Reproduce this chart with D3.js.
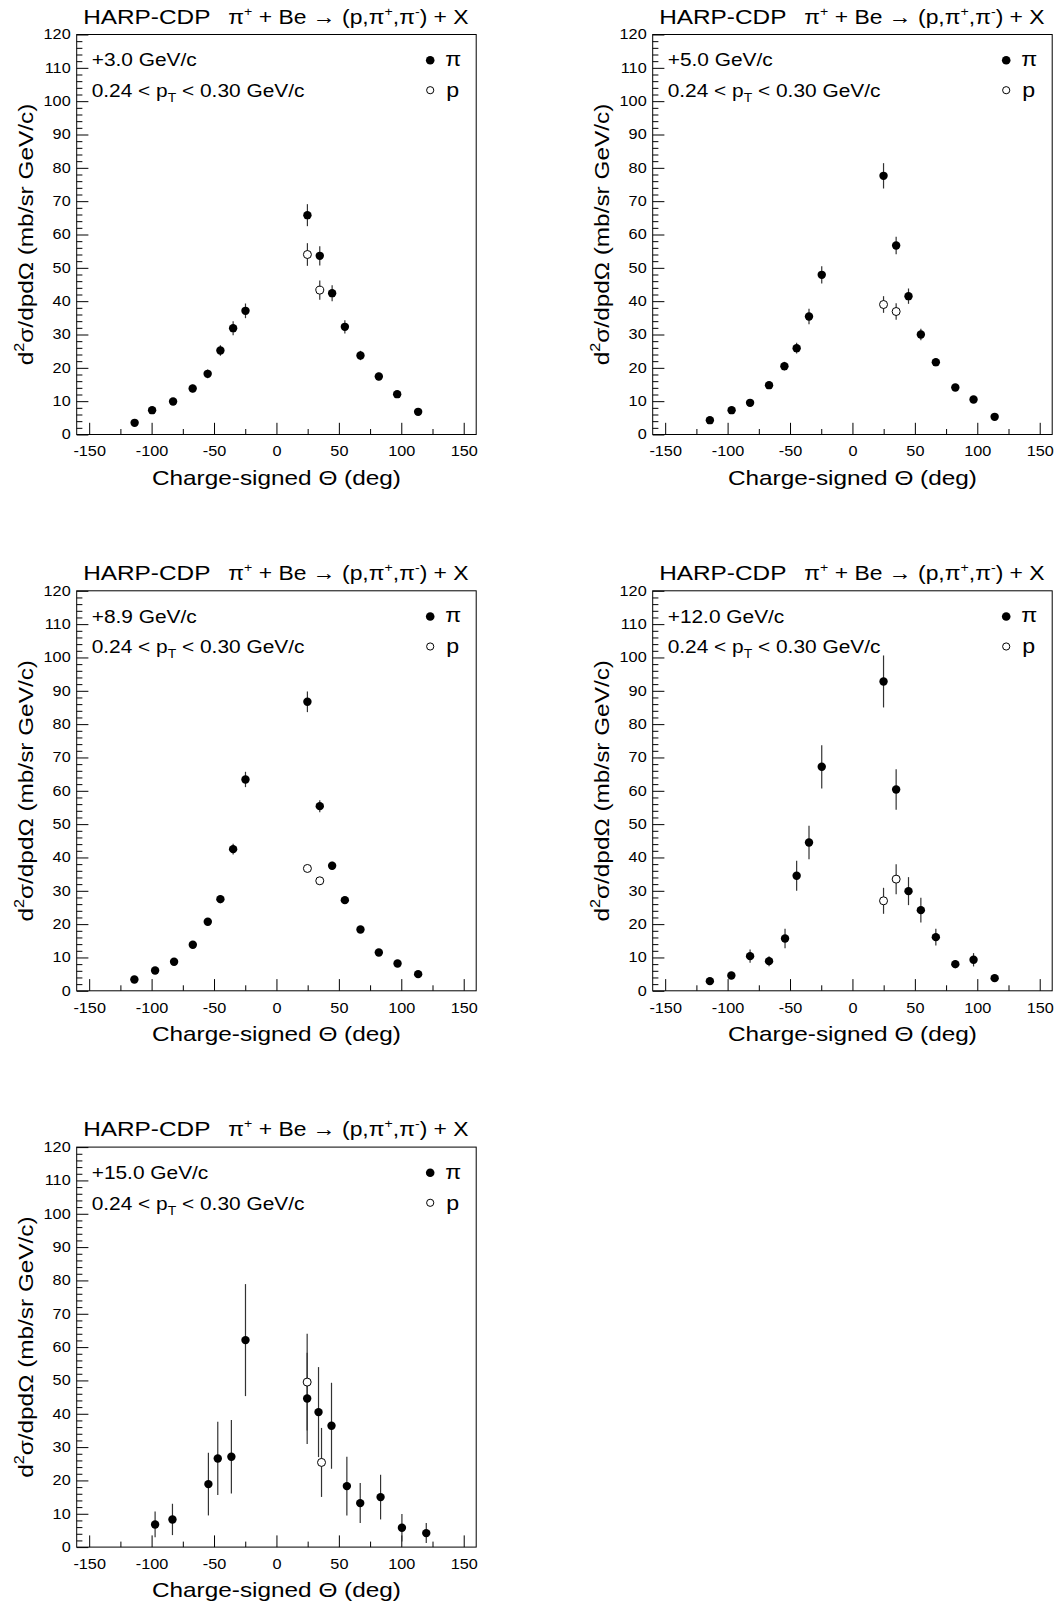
<!DOCTYPE html>
<html><head><meta charset="utf-8">
<script src="https://cdn.jsdelivr.net/npm/d3@7"></script>
<style>body{margin:0;background:#fff}</style>
</head><body>
<script>
// ---------------- data ----------------
const momentumLabels = ["+3.0 GeV/c", "+5.0 GeV/c", "+8.9 GeV/c", "+12.0 GeV/c", "+15.0 GeV/c"];
const ptLabel = ["0.24 < p", "T", " < 0.30 GeV/c"];
const xTickValues = [-150, -100, -50, 0, 50, 100, 150];
const xMinorValues = [-125, -75, -25, 25, 75, 125];
const yTickValues = [0, 10, 20, 30, 40, 50, 60, 70, 80, 90, 100, 110, 120];
const yMinorValues = d3.range(0, 121, 2).filter(v => v % 10 !== 0);

// +3.0 GeV/c
const piTheta_3 = [-113.6, -99.6, -82.8, -67.1, -55.1, -44.9, -34.7, -24.8, 24.8, 34.7, 44.6, 54.8, 67.3, 82, 96.7, 113.5];
const piVal_3   = [3.5, 7.3, 9.9, 13.8, 18.2, 25.2, 31.9, 37.1, 65.8, 53.6, 42.4, 32.3, 23.7, 17.4, 12.1, 6.8];
const piErr_3   = [0.6, 0.8, 0.9, 1.1, 1.3, 1.6, 2.1, 2.2, 3.3, 2.9, 2.4, 2.0, 1.4, 1.1, 0.9, 0.6];
const pTheta_3  = [24.8, 34.7];
const pVal_3    = [54.0, 43.3];
const pErr_3    = [3.4, 2.9];

// +5.0 GeV/c
const piTheta_5 = [-114.2, -96.8, -82, -66.8, -54.5, -44.7, -34.8, -24.6, 24.9, 35, 44.9, 54.8, 66.8, 82.4, 97, 113.9];
const piVal_5   = [4.3, 7.3, 9.5, 14.8, 20.5, 25.9, 35.4, 47.9, 77.6, 56.7, 41.5, 30.0, 21.7, 14.1, 10.5, 5.3];
const piErr_5   = [0.6, 0.8, 0.9, 1.1, 1.3, 1.6, 2.3, 2.6, 3.8, 2.6, 2.3, 1.7, 1.2, 0.9, 0.8, 0.6];
const pTheta_5  = [24.9, 35];
const pVal_5    = [39.0, 36.9];
const pErr_5    = [2.5, 2.5];

// +8.9 GeV/c
const piTheta_89 = [-113.8, -97.2, -82, -67, -55, -44.9, -34.7, -24.8, 24.8, 34.7, 44.6, 54.8, 67.3, 82, 97, 113.5];
const piVal_89   = [3.4, 6.1, 8.7, 13.8, 20.7, 27.5, 42.5, 63.4, 86.7, 55.4, 37.5, 27.2, 18.4, 11.5, 8.2, 5.0];
const piErr_89   = [0.4, 0.5, 0.6, 0.8, 1.0, 1.2, 1.6, 2.3, 3.1, 1.8, 1.2, 0.9, 0.7, 0.5, 0.4, 0.3];
const pTheta_89  = [24.8, 34.7];
const pVal_89    = [36.7, 33.0];
const pErr_89    = [0.9, 0.8];

// +12.0 GeV/c
const piTheta_12 = [-114.2, -97, -82, -66.8, -54, -44.7, -34.8, -24.6, 24.9, 35, 44.9, 54.8, 66.8, 82.4, 97, 113.9];
const piVal_12   = [2.9, 4.6, 10.4, 8.9, 15.7, 34.5, 44.5, 67.2, 92.8, 60.4, 29.9, 24.2, 16.1, 8.0, 9.3, 3.8];
const piErr_12   = [0.6, 1.0, 2.0, 1.5, 2.9, 4.5, 5.0, 6.5, 7.8, 6.1, 4.2, 3.7, 2.5, 1.2, 2.0, 0.8];
const pTheta_12  = [24.9, 35];
const pVal_12    = [27.0, 33.5];
const pErr_12    = [3.9, 4.5];

// +15.0 GeV/c
const piTheta_15 = [-97.2, -83.3, -54.5, -47, -36.1, -24.8, 24.6, 33.7, 44.1, 56.4, 67.1, 83.4, 100.5, 120];
const piVal_15   = [6.8, 8.3, 18.9, 26.6, 27.1, 62.1, 44.6, 40.5, 36.4, 18.3, 13.2, 15.0, 5.8, 4.2];
const piErr_15   = [3.85, 4.7, 9.4, 11.0, 11.0, 16.8, 13.7, 13.5, 12.9, 8.8, 6.0, 6.7, 4.1, 3.0];
const pTheta_15  = [24.6, 36.1];
const pVal_15    = [49.5, 25.4];
const pErr_15    = [14.5, 10.35];

// ---------------- layout ----------------
const panels = [
  {label: momentumLabels[0], pi: [piTheta_3, piVal_3, piErr_3], p: [pTheta_3, pVal_3, pErr_3]},
  {label: momentumLabels[1], pi: [piTheta_5, piVal_5, piErr_5], p: [pTheta_5, pVal_5, pErr_5]},
  {label: momentumLabels[2], pi: [piTheta_89, piVal_89, piErr_89], p: [pTheta_89, pVal_89, pErr_89]},
  {label: momentumLabels[3], pi: [piTheta_12, piVal_12, piErr_12], p: [pTheta_12, pVal_12, pErr_12]},
  {label: momentumLabels[4], pi: [piTheta_15, piVal_15, piErr_15], p: [pTheta_15, pVal_15, pErr_15]}
];
const colLeft = [76.7, 652.7];
const rowTop = [34.5, 590.8, 1147.1];
const W = 399.5, H = 400;
const SX = 1.16;
const FONT = "'Liberation Sans', Arial, Helvetica, sans-serif";

const svg = d3.select("body").append("svg")
  .attr("width", 1059).attr("height", 1606)
  .style("font-family", FONT);
svg.append("rect").attr("width", 1059).attr("height", 1606).attr("fill", "#fff");

function txt(g, x, y, size, anchor, rot, sx) {
  return g.append("text")
    .attr("transform", `translate(${x},${y}) rotate(${rot || 0}) scale(${sx || SX},1)`)
    .attr("font-size", size)
    .attr("text-anchor", anchor || "start")
    .attr("fill", "#000");
}

panels.forEach((pd, i) => {
  const col = i % 2, row = Math.floor(i / 2);
  const g = svg.append("g").attr("transform", `translate(${colLeft[col]},${rowTop[row]})`);
  const x = d3.scaleLinear().domain([-160, 160]).range([0, W]);
  const y = d3.scaleLinear().domain([0, 120]).range([H, 0]);

  // axes (ticks inside frame)
  const fmt = d => String(d);
  const xAx = g.append("g").attr("transform", `translate(0,${H})`)
    .call(d3.axisBottom(x).tickValues(xTickValues).tickSize(-11.7).tickSizeOuter(0).tickPadding(11.8).tickFormat(fmt));
  g.append("g").attr("transform", `translate(0,${H})`)
    .call(d3.axisBottom(x).tickValues(xMinorValues).tickSize(-5.5).tickSizeOuter(0).tickFormat(""));
  const yAx = g.append("g")
    .call(d3.axisLeft(y).tickValues(yTickValues).tickSize(-11.7).tickSizeOuter(0).tickPadding(5.2).tickFormat(fmt));
  g.append("g")
    .call(d3.axisLeft(y).tickValues(yMinorValues).tickSize(-5.7).tickSizeOuter(0).tickFormat(""));
  g.selectAll(".domain").remove();
  g.selectAll(".tick line").attr("stroke", "#000").attr("stroke-width", 1);
  [xAx, yAx].forEach(a => a.selectAll("text")
    .attr("font-size", 14).attr("font-family", FONT).attr("fill", "#000")
    .attr("transform", `scale(${SX},1)`));

  // frame
  g.append("rect").attr("x", 0).attr("y", 0).attr("width", W).attr("height", H)
    .attr("fill", "none").attr("stroke", "#000").attr("stroke-width", 1);

  // title
  txt(g, 6.5, -11, 21).text("HARP-CDP");
  const t = txt(g, 151.6, -11, 21, "start", 0, 1.09);
  t.append("tspan").text("π");
  t.append("tspan").attr("font-size", 13).attr("dy", -8).text("+");
  t.append("tspan").attr("dy", 8).text(" + Be → (p,π");
  t.append("tspan").attr("font-size", 13).attr("dy", -8).text("+");
  t.append("tspan").attr("dy", 8).text(",π");
  t.append("tspan").attr("font-size", 13).attr("dy", -8).text("-");
  t.append("tspan").attr("dy", 8).text(") + X");

  // axis titles
  txt(g, W / 2, H + 50, 21, "middle").text("Charge-signed Θ (deg)");
  const yt = txt(g, -43.7, H / 2, 21, "middle", -90);
  yt.append("tspan").text("d");
  yt.append("tspan").attr("font-size", 14).attr("dy", -9).text("2");
  yt.append("tspan").attr("dy", 9).text("σ/dpdΩ (mb/sr GeV/c)");

  // labels
  txt(g, 15, 31.7, 18).text(pd.label);
  const pt = txt(g, 15, 62.4, 18);
  pt.append("tspan").text(ptLabel[0]);
  pt.append("tspan").attr("font-size", 12).attr("dy", 5).text(ptLabel[1]);
  pt.append("tspan").attr("dy", -5).text(ptLabel[2]);

  // legend
  g.append("circle").attr("cx", W - 46).attr("cy", 25.7).attr("r", 4.3).attr("fill", "#000");
  txt(g, W - 31, 31.4, 20).text("π");
  g.append("circle").attr("cx", W - 46).attr("cy", 55.7).attr("r", 3.6)
    .attr("fill", "#fff").attr("stroke", "#000").attr("stroke-width", 1);
  txt(g, W - 30, 62.4, 20).text("p");

  // data
  const toPts = arr => arr[0].map((th, k) => ({t: th, v: arr[1][k], e: arr[2][k]}));
  const piPts = toPts(pd.pi), pPts = toPts(pd.p);
  const all = piPts.concat(pPts);
  g.selectAll("line.err").data(all).enter().append("line").attr("class", "err")
    .attr("x1", d => x(d.t)).attr("x2", d => x(d.t))
    .attr("y1", d => y(d.v + d.e)).attr("y2", d => y(Math.max(0, d.v - d.e)))
    .attr("stroke", "#333").attr("stroke-width", 1.2);
  g.selectAll("circle.pi").data(piPts).enter().append("circle").attr("class", "pi")
    .attr("cx", d => x(d.t)).attr("cy", d => y(d.v)).attr("r", 4.2).attr("fill", "#000");
  g.selectAll("circle.pr").data(pPts).enter().append("circle").attr("class", "pr")
    .attr("cx", d => x(d.t)).attr("cy", d => y(d.v)).attr("r", 4)
    .attr("fill", "#fff").attr("stroke", "#000").attr("stroke-width", 1);
});
</script>
</body></html>
